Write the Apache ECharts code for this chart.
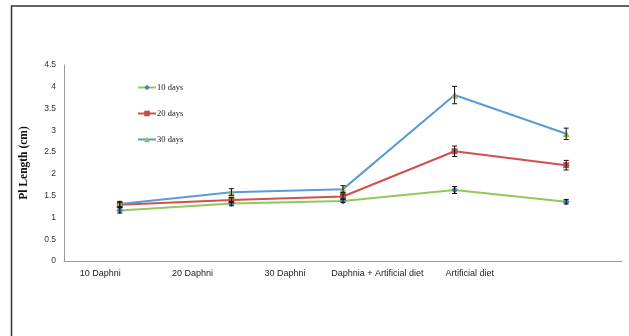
<!DOCTYPE html>
<html>
<head>
<meta charset="utf-8">
<script src="https://cdn.jsdelivr.net/npm/echarts@6/dist/echarts.min.js"></script>
<style>
  html, body { margin: 0; padding: 0; background: #fff; }
  #chart { width: 629px; height: 336px; }
</style>
</head>
<body>
<div id="chart"></div>
<script>
// Pl length by feeding regime, measured at 10, 20 and 30 days
const categories = ['10 Daphni', '20 Daphni', '30 Daphni', 'Daphnia + Artificial diet', 'Artificial diet'];

const days10 = [1.16, 1.32, 1.38, 1.63, 1.36];
const days20 = [1.29, 1.40, 1.48, 2.52, 2.20];
const days30 = [1.31, 1.58, 1.65, 3.81, 2.92];

// standard errors shown as error bars
const err10 = [0.06, 0.05, 0.04, 0.08, 0.05];
const err20 = [0.06, 0.06, 0.06, 0.12, 0.11];
const err30 = [0.06, 0.08, 0.08, 0.20, 0.13];

const yTicks = { min: 0, max: 4.5, interval: 0.5 };

const seriesDefs = [
  { name: '10 days', values: days10, errors: err10, line: '#92C95A', marker: '#4F81BD', symbol: 'diamond', size: 7 },
  { name: '20 days', values: days20, errors: err20, line: '#D0504D', marker: '#C0504D', symbol: 'rect', size: 6 },
  { name: '30 days', values: days30, errors: err30, line: '#5B9BD5', marker: '#9BBB59', symbol: 'triangle', size: 7 }
];

const chart = echarts.init(document.getElementById('chart'), null, { renderer: 'canvas' });

const series = [];
seriesDefs.forEach(function (s) {
  series.push({
    name: s.name,
    type: 'line',
    xAxisIndex: 0,
    yAxisIndex: 0,
    data: s.values,
    symbol: s.symbol,
    symbolSize: s.size,
    showAllSymbol: true,
    itemStyle: { color: s.marker },
    lineStyle: { color: s.line, width: 2 },
    z: 3
  });
  series.push({
    name: s.name,
    type: 'custom',
    xAxisIndex: 0,
    yAxisIndex: 0,
    data: s.values.map(function (v, i) { return [i, v, s.errors[i]]; }),
    renderItem: function (params, api) {
      const x = api.value(0);
      const v = api.value(1);
      const e = api.value(2);
      const hi = api.coord([x, v + e]);
      const lo = api.coord([x, v - e]);
      const cap = 2.5;
      const style = { stroke: '#111', lineWidth: 1 };
      return {
        type: 'group',
        children: [
          { type: 'line', shape: { x1: hi[0], y1: hi[1], x2: lo[0], y2: lo[1] }, style: style },
          { type: 'line', shape: { x1: hi[0] - cap, y1: hi[1], x2: hi[0] + cap, y2: hi[1] }, style: style },
          { type: 'line', shape: { x1: lo[0] - cap, y1: lo[1], x2: lo[0] + cap, y2: lo[1] }, style: style }
        ]
      };
    },
    z: 4,
    silent: true
  });
});

chart.setOption({
  animation: false,
  backgroundColor: '#fff',
  graphic: [{
    type: 'rect',
    shape: { x: 11.5, y: 6, width: 700, height: 400 },
    style: { fill: 'none', stroke: '#333', lineWidth: 1.5 },
    silent: true,
    z: 0
  }],
  legend: {
    orient: 'vertical',
    left: 137,
    top: 83,
    padding: 0,
    itemWidth: 18,
    itemHeight: 7,
    itemGap: 17,
    data: seriesDefs.map(function (s) { return s.name; }),
    textStyle: { fontFamily: 'Liberation Serif', fontSize: 8.5, color: '#222', padding: [0, 0, 0, -4] }
  },
  grid: [
    { left: 64, right: 7, top: 65, bottom: 75 },
    { left: 54, right: 113, top: 65, bottom: 75 }
  ],
  xAxis: [
    {
      type: 'category',
      gridIndex: 0,
      data: categories,
      boundaryGap: true,
      axisLine: { lineStyle: { color: '#999', width: 1 } },
      axisTick: { show: false },
      axisLabel: { show: false },
      splitLine: { show: false }
    },
    {
      type: 'category',
      gridIndex: 1,
      data: categories,
      boundaryGap: true,
      axisLine: { show: false },
      axisTick: { show: false },
      axisLabel: { show: true, interval: 0, margin: 8, fontFamily: 'Liberation Sans', fontSize: 9, color: '#222' },
      splitLine: { show: false }
    }
  ],
  yAxis: [
    {
      type: 'value',
      gridIndex: 0,
      min: yTicks.min,
      max: yTicks.max,
      interval: yTicks.interval,
      name: 'Pl Length (cm)',
      nameLocation: 'middle',
      nameGap: 34,
      nameTextStyle: { fontFamily: 'Liberation Serif', fontWeight: 'bold', fontSize: 11.5, color: '#111' },
      axisLine: { show: true, lineStyle: { color: '#999', width: 1 } },
      axisTick: { show: false },
      axisLabel: { margin: 8, fontFamily: 'Liberation Sans', fontSize: 8.5, color: '#333' },
      splitLine: { show: false }
    },
    {
      type: 'value',
      gridIndex: 1,
      show: false,
      min: yTicks.min,
      max: yTicks.max
    }
  ],
  series: series
});
</script>
</body>
</html>
